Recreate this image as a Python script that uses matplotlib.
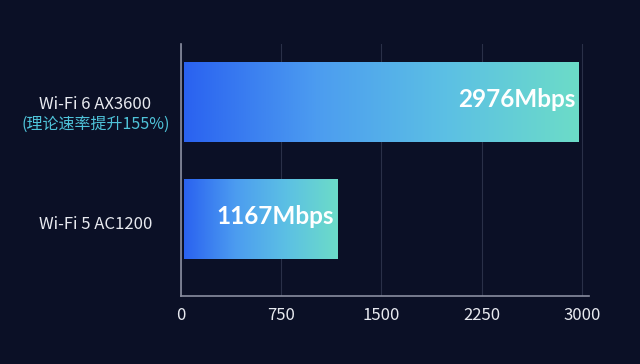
import matplotlib.pyplot as plt
import numpy as np
from matplotlib.colors import LinearSegmentedColormap

plt.rcParams['font.family'] = ['Noto Sans CJK SC', 'DejaVu Sans']

labels = ["Wi-Fi 5 AC1200", "Wi-Fi 6 AX3600"]
notes = ["", "(理论速率提升155%)"]
speeds = [1167, 2976]
ticks = [0, 750, 1500, 2250, 3000]

bg = "#0b1026"
grad = LinearSegmentedColormap.from_list("g", ["#2a62f0", "#4c9cf0", "#5cc0e4", "#6cdcc8"])

fig = plt.figure(figsize=(6.4, 3.64), dpi=100, facecolor=bg)
ax = fig.add_axes([0.283, 0.187, 0.637, 0.692], facecolor=bg)

h = 0.68
ramp = np.linspace(0, 1, 256).reshape(1, -1)
for i, v in enumerate(speeds):
    ax.imshow(ramp, cmap=grad, aspect="auto", extent=(20, v, i - h / 2, i + h / 2), zorder=2)
    ax.text(v - 25, i + 0.02, "%dMbps" % v, color="white", fontsize=17.5, fontweight="bold",
            family=["Lato", "DejaVu Sans"], ha="right", va="center", zorder=3)

ax.set_xlim(0, 3052)
ax.set_ylim(-0.658, 1.496)
ax.set_xticks(ticks)
ax.set_xticklabels([str(t) for t in ticks], color="#e8eaf0", fontsize=12)
ax.set_yticks([])
ax.tick_params(axis="x", length=0, pad=8)
ax.grid(axis="x", color="#2a3048", linewidth=0.8, zorder=0)

for s in ["top", "right"]:
    ax.spines[s].set_visible(False)
for s in ["left", "bottom"]:
    ax.spines[s].set_color("#8a8ea0")
    ax.spines[s].set_linewidth(1.2)

ytr = ax.get_yaxis_transform()
for i, (lab, note) in enumerate(zip(labels, notes)):
    if note:
        ax.text(-0.21, i - 0.02, lab, transform=ytr, color="#e8eaf0",
                fontsize=12, ha="center", va="center")
        ax.text(-0.21, i - 0.19, note, transform=ytr, color="#4fc3d9",
                fontsize=11.5, ha="center", va="center")
    else:
        ax.text(-0.21, i - 0.05, lab, transform=ytr, color="#e8eaf0",
                fontsize=12, ha="center", va="center")

fig.savefig("out.png", dpi=100, facecolor=bg)
